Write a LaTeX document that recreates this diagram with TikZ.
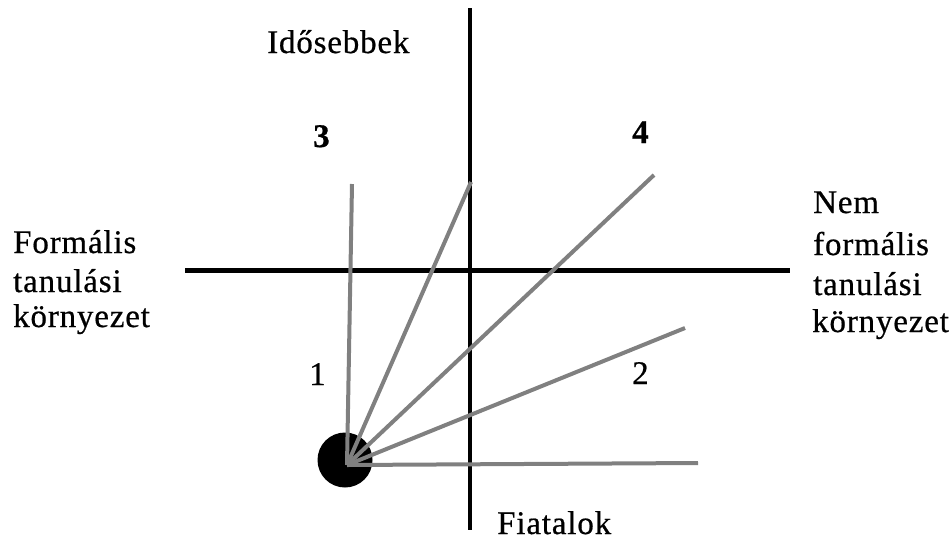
\documentclass[tikz,border=0pt]{standalone}
\usepackage{fontspec}
\setmainfont{Liberation Serif}[LetterSpace=2.5,FakeBold=0.6]
\begin{document}
\begin{tikzpicture}[x=1pt,y=-1pt,
  lbl/.style={anchor=base west,inner sep=0pt,font=\fontsize{33}{40}\selectfont},
  num/.style={anchor=base west,inner sep=0pt,font=\fontsize{33}{40}\selectfont\bfseries},
  numr/.style={anchor=base west,inner sep=0pt,font=\fontsize{33}{40}\selectfont},
  axis/.style={line width=4.5pt,black},
  ray/.style={line width=4pt,color={rgb,255:red,128;green,128;blue,128}}]
\useasboundingbox (0,0) rectangle (951,542);
% axes
\coordinate (vt) at (470,8);
\coordinate (vb) at (470,530);
\coordinate (hl) at (185,270.5);
\coordinate (hr) at (790,270.5);
\draw[axis] (vt) -- (vb);
\draw[axis] (hl) -- (hr);
% hub
\node[circle,fill=black,minimum size=55pt,inner sep=0pt] (hub) at (345,460) {};
\coordinate (c) at (347,465);
\coordinate (r1) at (352,184);
\coordinate (r2) at (471,182);
\coordinate (r3) at (654,175);
\coordinate (r4) at (685,328);
\coordinate (r5) at (698,463);
\foreach \e in {r1,r2,r3,r4,r5} \draw[ray] (c) -- (\e);
% labels
\node[lbl] (old) at (267,53) {Idősebbek};
\node[lbl] (young) at (497,534) {Fiatalok};
\node[lbl] (f1) at (13,253) {Formális};
\node[lbl] (f2) at (13,292) {tanulási};
\node[lbl] (f3) at (13,327) {környezet};
\node[lbl] (n1) at (813,213) {Nem};
\node[lbl] (n2) at (813,255) {formális};
\node[lbl] (n3) at (813,295) {tanulási};
\node[lbl] (n4) at (812,332) {környezet};
\node[num] (q3) at (313,147) {3};
\node[num] (q4) at (632,143) {4};
\node[numr] (q1) at (309,385) {1};
\node[numr] (q2) at (632,384) {2};
\end{tikzpicture}
\end{document}
